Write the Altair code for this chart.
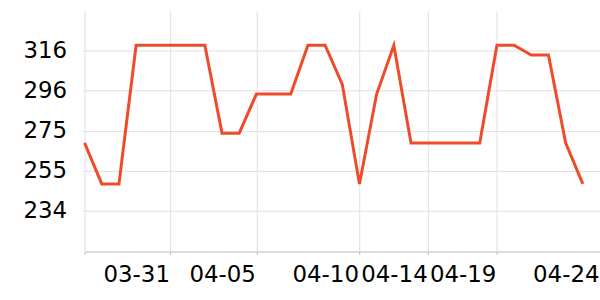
import altair as alt
import pandas as pd

# data (equally spaced category points)
idx = list(range(30))
values = [269, 248, 248, 319, 319, 319, 319, 319, 274, 274,
          294, 294, 294, 319, 319, 299, 248, 294, 319, 269,
          269, 269, 269, 269, 319, 319, 314, 314, 269, 248]

x_tick_pos = [0, 5, 10, 16, 20, 24, 30]
x_tick_labels = ["", "03-31", "04-05", "04-10", "04-14", "04-19", "04-24"]
y_tick_vals = [234.2, 254.7, 275.2, 295.7, 316.2]
y_domain = [213.4, 336.7]

df = pd.DataFrame({"i": idx, "v": values})

pos_js = "[" + ",".join(str(p) for p in x_tick_pos) + "]"
lab_js = "[" + ",".join("'" + s + "'" for s in x_tick_labels) + "]"
label_expr = f"{lab_js}[indexof({pos_js}, datum.value)]"

chart = alt.Chart(df).mark_line(color="#ee4b2b", strokeWidth=3).encode(
    x=alt.X("i:Q", scale=alt.Scale(domain=[0, 30], nice=False, zero=False),
            axis=alt.Axis(values=x_tick_pos, labelExpr=label_expr, title=None,
                          labelAlign="right", labelBaseline="top", labelOffset=-1,
                          labelFontSize=23, labelFont="DejaVu Sans", labelColor="#000",
                          labelPadding=9, tickSize=3, tickColor="#bbb",
                          domainColor="#bbb", gridColor="#e0e0e0",
                          labelOverlap=False, labelBound=False, labelFlush=False)),
    y=alt.Y("v:Q", scale=alt.Scale(domain=y_domain, nice=False, zero=False),
            axis=alt.Axis(values=y_tick_vals, format=".0f", title=None,
                          labelFontSize=23, labelFont="DejaVu Sans", labelColor="#000",
                          labelPadding=16, tickSize=2, tickColor="#e0e0e0",
                          domain=False, gridColor="#e0e0e0",
                          labelOverlap=False, labelBound=False)),
).properties(
    width=518, height=242,
    autosize=alt.AutoSizeParams(type="none"),
    padding={"left": 85, "top": 10, "right": 0, "bottom": 48},
).configure_view(stroke=None)

chart.save("out.html", embed_options={"renderer": "svg", "actions": False})
